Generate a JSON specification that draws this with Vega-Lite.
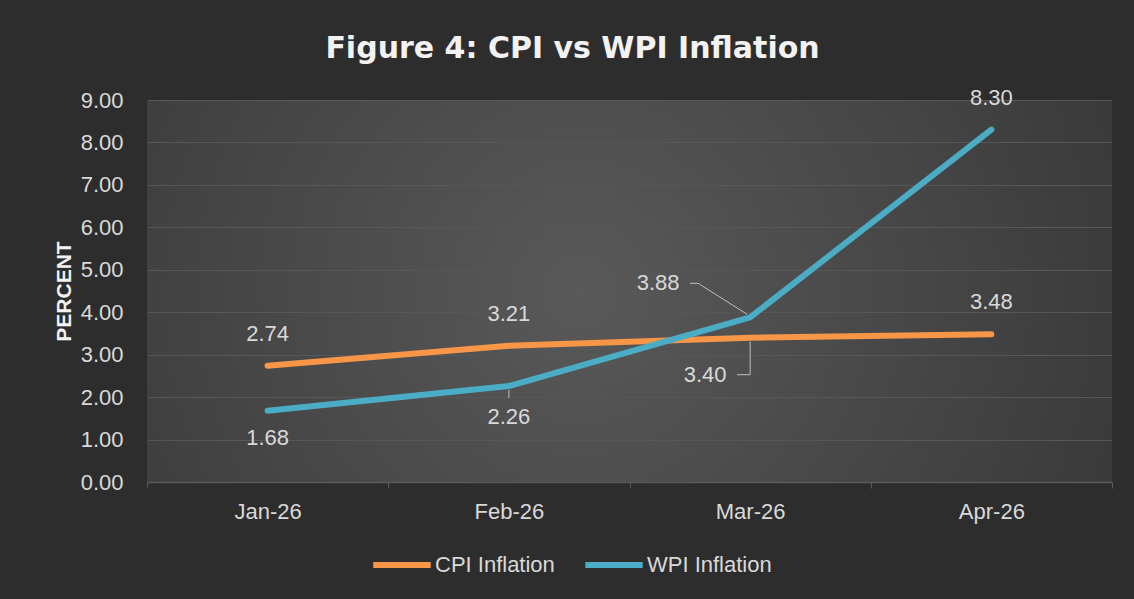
{
  "$schema": "https://vega.github.io/schema/vega-lite/v6.json",
  "width": 965,
  "height": 382,
  "autosize": {"type": "none"},
  "padding": {"left": 147, "top": 100, "right": 22, "bottom": 117},
  "background": "#2d2d2d",
  "title": {
    "text": "Figure 4: CPI vs WPI Inflation",
    "font": "DejaVu Sans",
    "fontWeight": "bold",
    "fontSize": 30,
    "color": "#f2f2f2",
    "anchor": "middle",
    "dx": -57,
    "offset": 23
  },
  "config": {
    "view": {
      "stroke": null,
      "fill": {
        "gradient": "radial",
        "x1": 0.45, "y1": 0.5, "r1": 0,
        "x2": 0.45, "y2": 0.5, "r2": 0.75,
        "stops": [
          {"offset": 0, "color": "#595959"},
          {"offset": 1, "color": "#313131"}
        ]
      }
    },
    "font": "Liberation Sans"
  },
  "data": {
    "values": [
      {"month": "Jan-26", "series": "CPI Inflation", "value": 2.74},
      {"month": "Feb-26", "series": "CPI Inflation", "value": 3.21},
      {"month": "Mar-26", "series": "CPI Inflation", "value": 3.40},
      {"month": "Apr-26", "series": "CPI Inflation", "value": 3.48},
      {"month": "Jan-26", "series": "WPI Inflation", "value": 1.68},
      {"month": "Feb-26", "series": "WPI Inflation", "value": 2.26},
      {"month": "Mar-26", "series": "WPI Inflation", "value": 3.88},
      {"month": "Apr-26", "series": "WPI Inflation", "value": 8.30}
    ]
  },
  "encoding": {
    "x": {
      "field": "month",
      "type": "ordinal",
      "sort": ["Jan-26", "Feb-26", "Mar-26", "Apr-26"],
      "scale": {"type": "band", "paddingInner": 0, "paddingOuter": 0},
      "axis": {
        "title": null,
        "labelAngle": 0,
        "labelFont": "Liberation Sans",
        "labelFontSize": 22,
        "labelColor": "#d9d9d9",
        "labelPadding": 13,
        "domainColor": "#5a5a5a",
        "domainWidth": 1.5,
        "tickColor": "#5a5a5a",
        "tickSize": 6,
        "tickBand": "extent",
        "grid": false
      }
    },
    "y": {
      "field": "value",
      "type": "quantitative",
      "scale": {"domain": [0, 9], "nice": false},
      "axis": {
        "title": "PERCENT",
        "titleFont": "Liberation Sans",
        "titleFontSize": 21,
        "titleFontWeight": "bold",
        "titleColor": "#f2f2f2",
        "titlePadding": 6,
        "values": [0, 1, 2, 3, 4, 5, 6, 7, 8, 9],
        "format": ".2f",
        "labelFont": "Liberation Sans",
        "labelFontSize": 22,
        "labelColor": "#d9d9d9",
        "labelPadding": 24,
        "ticks": false,
        "domain": false,
        "gridColor": "#575757",
        "gridWidth": 1
      }
    }
  },
  "layer": [
    {
      "mark": {"type": "line", "strokeWidth": 6, "strokeCap": "round", "strokeJoin": "round"},
      "encoding": {
        "color": {
          "field": "series",
          "type": "nominal",
          "scale": {"domain": ["CPI Inflation", "WPI Inflation"], "range": ["#f79646", "#4bacc6"]},
          "legend": {
            "title": null,
            "orient": "none",
            "legendX": 223,
            "legendY": 433,
            "direction": "horizontal",
            "symbolType": "stroke",
            "symbolSize": 3300,
            "symbolStrokeWidth": 6,
            "labelFont": "Liberation Sans",
            "labelFontSize": 22,
            "labelColor": "#d9d9d9",
            "labelOffset": 1,
            "columnPadding": 18
          }
        }
      }
    },
    {
      "transform": [{"filter": "(datum.series == 'CPI Inflation' && datum.month != 'Mar-26') || (datum.series == 'WPI Inflation' && datum.month == 'Apr-26')"}],
      "mark": {"type": "text", "dy": -32, "fontSize": 22, "color": "#d9d9d9", "font": "Liberation Sans"},
      "encoding": {"text": {"field": "value", "type": "quantitative", "format": ".2f"}}
    },
    {
      "transform": [{"filter": "datum.series == 'WPI Inflation' && datum.month == 'Jan-26'"}],
      "mark": {"type": "text", "dy": 27, "fontSize": 22, "color": "#d9d9d9", "font": "Liberation Sans"},
      "encoding": {"text": {"field": "value", "type": "quantitative", "format": ".2f"}}
    },
    {
      "transform": [{"filter": "datum.series == 'WPI Inflation' && datum.month == 'Feb-26'"}],
      "mark": {"type": "text", "dy": 31, "fontSize": 22, "color": "#d9d9d9", "font": "Liberation Sans"},
      "encoding": {"text": {"field": "value", "type": "quantitative", "format": ".2f"}}
    },
    {
      "transform": [{"filter": "datum.series == 'CPI Inflation' && datum.month == 'Mar-26'"}],
      "mark": {"type": "text", "dx": -45, "dy": 37, "fontSize": 22, "color": "#d9d9d9", "font": "Liberation Sans"},
      "encoding": {"text": {"field": "value", "type": "quantitative", "format": ".2f"}}
    },
    {
      "transform": [{"filter": "datum.series == 'WPI Inflation' && datum.month == 'Mar-26'"}],
      "mark": {"type": "text", "dx": -92, "dy": -34, "fontSize": 22, "color": "#d9d9d9", "font": "Liberation Sans"},
      "encoding": {"text": {"field": "value", "type": "quantitative", "format": ".2f"}}
    },
    {
      "transform": [{"filter": "datum.series == 'CPI Inflation' && datum.month == 'Mar-26'"}],
      "mark": {"type": "rule", "color": "#bfbfbf", "strokeWidth": 1, "yOffset": 4, "y2Offset": 37},
      "encoding": {"y2": {"field": "value"}}
    },
    {
      "transform": [{"filter": "datum.series == 'CPI Inflation' && datum.month == 'Mar-26'"}],
      "mark": {"type": "rule", "color": "#bfbfbf", "strokeWidth": 1, "xOffset": 0, "x2Offset": -13, "yOffset": 37, "y2Offset": 37},
      "encoding": {"x2": {"field": "month"}, "y2": {"field": "value"}}
    },
    {
      "transform": [{"filter": "datum.series == 'WPI Inflation' && datum.month == 'Mar-26'"}],
      "mark": {"type": "rule", "color": "#bfbfbf", "strokeWidth": 1, "xOffset": -3, "yOffset": -3, "x2Offset": -52, "y2Offset": -34},
      "encoding": {"x2": {"field": "month"}, "y2": {"field": "value"}}
    },
    {
      "transform": [{"filter": "datum.series == 'WPI Inflation' && datum.month == 'Mar-26'"}],
      "mark": {"type": "rule", "color": "#bfbfbf", "strokeWidth": 1, "xOffset": -52, "yOffset": -34, "x2Offset": -60, "y2Offset": -34},
      "encoding": {"x2": {"field": "month"}, "y2": {"field": "value"}}
    },
    {
      "transform": [{"filter": "datum.series == 'WPI Inflation' && datum.month == 'Feb-26'"}],
      "mark": {"type": "rule", "color": "#bfbfbf", "strokeWidth": 1, "yOffset": 4, "y2Offset": 12},
      "encoding": {"y2": {"field": "value"}}
    }
  ]
}
